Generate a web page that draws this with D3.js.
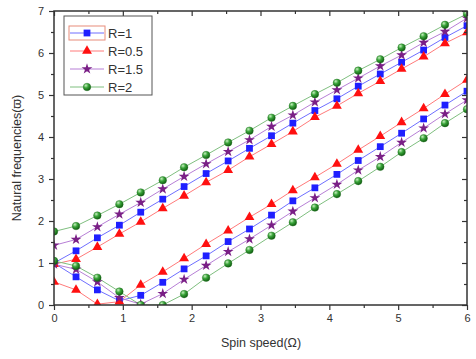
<!DOCTYPE html>
<html>
<head>
<meta charset="utf-8">
<script src="https://cdn.jsdelivr.net/npm/d3@7"></script>
<style>
  body { margin: 0; background: #fff; }
  text { font-family: "Liberation Sans", Arial, sans-serif; fill: #333; }
</style>
</head>
<body>
<div class="chart"></div>
<script>
// spin speed samples (x)
var spinSpeed = [0, 0.32, 0.63, 0.95, 1.26, 1.58, 1.89, 2.21, 2.53, 2.84, 3.16, 3.47, 3.79, 4.11, 4.42, 4.74, 5.05, 5.37, 5.68, 6.0];

// upper (forward) and lower (backward) branches for each R
var r1Upper  = [1.00, 1.29, 1.60, 1.90, 2.21, 2.52, 2.82, 3.13, 3.43, 3.73, 4.03, 4.33, 4.63, 4.91, 5.21, 5.50, 5.78, 6.07, 6.37, 6.65];
var r1Lower  = [1.00, 0.67, 0.36, 0.10, 0.23, 0.54, 0.86, 1.17, 1.51, 1.81, 2.14, 2.48, 2.79, 3.11, 3.44, 3.77, 4.09, 4.43, 4.76, 5.09];
var r05Upper = [0.97, 1.09, 1.38, 1.69, 1.98, 2.30, 2.60, 2.92, 3.21, 3.53, 3.83, 4.13, 4.47, 4.74, 5.04, 5.33, 5.62, 5.91, 6.23, 6.49];
var r05Lower = [0.55, 0.36, 0.02, 0.08, 0.48, 0.79, 1.11, 1.45, 1.77, 2.09, 2.40, 2.73, 3.04, 3.36, 3.69, 4.02, 4.35, 4.68, 5.02, 5.36];
var r15Upper = [1.42, 1.56, 1.86, 2.16, 2.44, 2.76, 3.06, 3.36, 3.65, 3.93, 4.25, 4.52, 4.83, 5.12, 5.40, 5.69, 5.95, 6.25, 6.51, 6.83];
var r15Lower = [0.97, 0.85, 0.55, 0.17, 0.02, 0.27, 0.61, 0.94, 1.27, 1.57, 1.90, 2.23, 2.55, 2.87, 3.21, 3.53, 3.87, 4.21, 4.55, 4.88];
var r2Upper  = [1.75, 1.88, 2.13, 2.40, 2.68, 2.97, 3.28, 3.57, 3.87, 4.15, 4.46, 4.74, 5.02, 5.29, 5.58, 5.85, 6.13, 6.40, 6.67, 6.93];
var r2Lower  = [1.05, 0.93, 0.65, 0.32, 0.00, 0.00, 0.26, 0.65, 0.99, 1.31, 1.65, 1.97, 2.32, 2.64, 2.95, 3.29, 3.64, 3.97, 4.33, 4.66];

var legendLabels = ["R=1", "R=0.5", "R=1.5", "R=2"];
var xTicks = [0, 1, 2, 3, 4, 5, 6];
var yTicks = [0, 1, 2, 3, 4, 5, 6, 7];

var series = [
  {label: legendLabels[0], upper: r1Upper,  lower: r1Lower,  line: "#6f6fff", mark: "#1f1fff", shape: "square"},
  {label: legendLabels[1], upper: r05Upper, lower: r05Lower, line: "#ff7a7a", mark: "#ff1010", shape: "triangle"},
  {label: legendLabels[2], upper: r15Upper, lower: r15Lower, line: "#b77fd6", mark: "#7a1f86", shape: "star"},
  {label: legendLabels[3], upper: r2Upper,  lower: r2Lower,  line: "#7fbf7f", mark: "#2a8a2a", shape: "ball"}
]

var svg = d3.select(".chart").append("svg")
  .attr("width", 476).attr("height", 359)

var defs = svg.append("defs")
var grad = defs.append("radialGradient").attr("id", "ball")
  .attr("cx", "35%").attr("cy", "30%").attr("r", "70%")
grad.append("stop").attr("offset", "0%").attr("stop-color", "#c8f0c0")
grad.append("stop").attr("offset", "45%").attr("stop-color", "#3aa53a")
grad.append("stop").attr("offset", "100%").attr("stop-color", "#115e11")

var x = d3.scaleLinear().domain([0, 6]).range([54, 467])
var y = d3.scaleLinear().domain([0, 7]).range([305, 11])

defs.append("clipPath").attr("id", "plotclip").append("rect")
  .attr("x", 54).attr("y", 11).attr("width", 413).attr("height", 294)

function marker(g, shape, color) {
  if (shape == "ball") {
    g.append("circle").attr("r", 3.8).attr("fill", "url(#ball)")
      .attr("stroke", "#1f6e1f").attr("stroke-width", 0.4)
  } else {
    var t = shape == "square" ? d3.symbolSquare : shape == "triangle" ? d3.symbolTriangle : d3.symbolStar
    var s = shape == "square" ? 46 : shape == "triangle" ? 42 : 36
    g.append("path").attr("d", d3.symbol().type(t).size(s)()).attr("fill", color)
  }
}

var plot = svg.append("g").attr("clip-path", "url(#plotclip)")
var line = d3.line().x(function(d, i){ return x(spinSpeed[i]); }).y(function(d){ return y(d); })

series.forEach(function(s) {
  [s.upper, s.lower].forEach(function(vals) {
    plot.append("path").datum(vals)
      .attr("d", line)
      .attr("fill", "none")
      .attr("stroke", s.line)
      .attr("stroke-width", 1)
  })
})

series.forEach(function(s) {
  [s.upper, s.lower].forEach(function(vals) {
    vals.forEach(function(v, i) {
      var g = plot.append("g").attr("transform", "translate(" + x(spinSpeed[i]) + "," + y(v) + ")")
      marker(g, s.shape, s.mark)
    })
  })
})

// axes, Origin style frame
var minorX = d3.range(0.5, 6, 1)
var minorY = d3.range(0.5, 7, 1)

svg.append("g").attr("transform", "translate(0,305)")
  .call(d3.axisBottom(x).tickValues(minorX).tickSize(3).tickFormat(""))
svg.append("g").attr("class", "axis x").attr("transform", "translate(0,305)")
  .call(d3.axisBottom(x).tickValues(xTicks).tickSize(5).tickPadding(4).tickFormat(d3.format("d")))

svg.append("g").attr("transform", "translate(54,0)")
  .call(d3.axisLeft(y).tickValues(minorY).tickSize(3).tickFormat(""))
svg.append("g").attr("class", "axis y").attr("transform", "translate(54,0)")
  .call(d3.axisLeft(y).tickValues(yTicks).tickSize(5).tickPadding(5).tickFormat(d3.format("d")))

svg.append("g").attr("transform", "translate(0,11)")
  .call(d3.axisBottom(x).tickValues(minorX).tickSize(3).tickFormat(""))
svg.append("g").attr("transform", "translate(0,11)")
  .call(d3.axisBottom(x).tickValues(xTicks).tickSize(5).tickFormat(""))

svg.append("g").attr("transform", "translate(467,0)")
  .call(d3.axisLeft(y).tickValues(minorY).tickSize(3).tickFormat(""))
svg.append("g").attr("transform", "translate(467,0)")
  .call(d3.axisLeft(y).tickValues(yTicks).tickSize(5).tickFormat(""))

svg.selectAll(".domain").remove()
svg.selectAll(".tick line").attr("stroke", "#333").attr("stroke-width", 1.2)
svg.selectAll(".tick text").style("font-size", "11px").attr("fill", "#333")

svg.append("rect").attr("x", 54).attr("y", 11).attr("width", 413).attr("height", 294)
  .attr("fill", "none").attr("stroke", "#333").attr("stroke-width", 1.5)

svg.append("text").attr("x", 261).attr("y", 347).attr("text-anchor", "middle")
  .style("font-size", "12.5px").text("Spin speed(\u03A9)")
svg.append("text").attr("transform", "translate(21,158) rotate(-90)").attr("text-anchor", "middle")
  .style("font-size", "12.5px").text("Natural frequencies(\u03D6)")

// legend
var lg = svg.append("g")
lg.append("rect").attr("x", 64).attr("y", 16).attr("width", 88).attr("height", 79)
  .attr("fill", "#fff").attr("stroke", "#555").attr("stroke-width", 1)
lg.append("rect").attr("x", 69).attr("y", 26).attr("width", 36).attr("height", 14)
  .attr("fill", "none").attr("stroke", "#e88c7a").attr("stroke-width", 1)

series.forEach(function(s, i) {
  var ly = 33 + i * 18
  lg.append("line").attr("x1", 70).attr("x2", 104).attr("y1", ly).attr("y2", ly)
    .attr("stroke", s.line).attr("stroke-width", 1)
  var g = lg.append("g").attr("transform", "translate(87," + ly + ")")
  marker(g, s.shape, s.mark)
  lg.append("text").attr("x", 108).attr("y", ly + 4.5).style("font-size", "13px").text(s.label)
})
</script>
</body>
</html>
